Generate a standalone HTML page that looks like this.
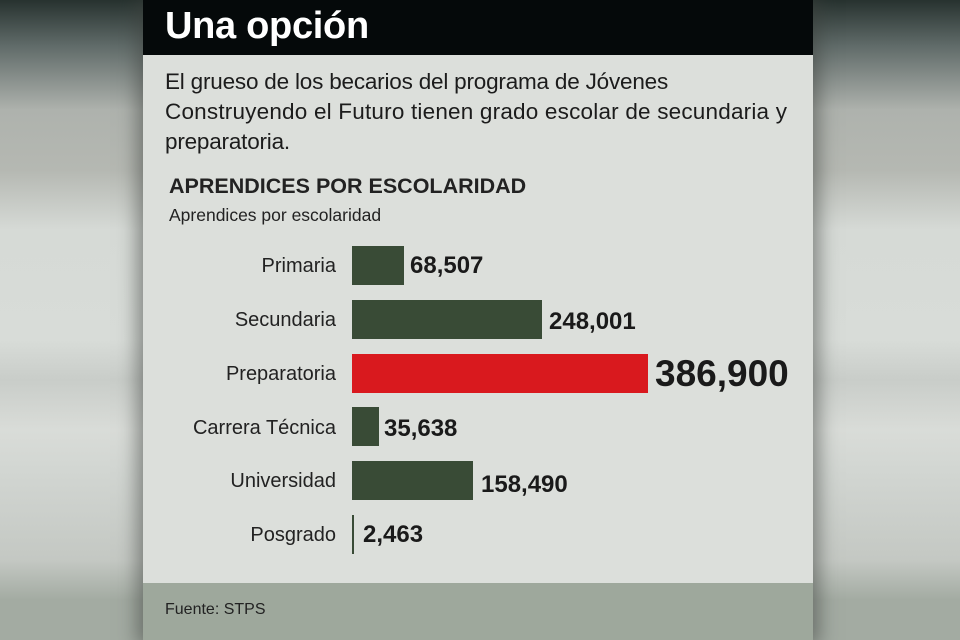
<!DOCTYPE html>
<html><head><meta charset="utf-8"><style>
*{margin:0;padding:0;box-sizing:border-box}
body{width:960px;height:640px;overflow:hidden;position:relative;font-family:"Liberation Sans",sans-serif;
background:linear-gradient(180deg,#27322f 0px,#5f6a68 45px,#aeb2ad 110px,#b5b8b2 170px,#d6dad6 230px,#d8dcd8 340px,#c9cdc9 380px,#d9dcd8 430px,#d2d6d2 470px,#c4c8c3 560px,#a3aba2 600px,#a3aba2 640px);}
.card{position:absolute;left:143px;top:0;width:670px;height:640px;background:#dcdfdb;box-shadow:0 0 18px 6px rgba(60,64,60,.55);}
.hd{position:absolute;left:0;top:0;width:670px;height:55px;background:#05090a;}
.hd span{position:absolute;left:22px;top:5px;color:#fff;font-weight:bold;font-size:38px;letter-spacing:-0.3px}
.t{position:absolute;color:#1c1c1c;white-space:nowrap}
.ft{position:absolute;left:0;top:583px;width:670px;height:57px;background:#9ea89c}
.bar{position:absolute;left:209px;height:39px;background:#394b36}
.lab{position:absolute;right:calc(670px - 193px);font-size:20px;color:#222;white-space:nowrap}
.val{position:absolute;font-size:24px;font-weight:bold;color:#1a1a1a;white-space:nowrap}
</style></head><body>
<div class="card">
<div class="hd"><span>Una opción</span></div>
<div class="t" style="left:22px;top:67px;font-size:22.5px;line-height:30px;letter-spacing:-0.2px">El grueso de los becarios del programa de Jóvenes<br><span style="letter-spacing:0.2px">Construyendo el Futuro tienen grado escolar de secundaria y</span><br>preparatoria.</div>
<div class="t" style="left:26px;top:174px;font-size:21.5px;font-weight:bold;color:#222">APRENDICES POR ESCOLARIDAD</div>
<div class="t" style="left:26px;top:205px;font-size:17.5px;color:#222">Aprendices por escolaridad</div>

<div class="lab" style="top:255px">Primaria</div>
<div class="bar" style="top:246px;width:52px"></div>
<div class="val" style="left:267px;top:252px">68,507</div>

<div class="lab" style="top:309px">Secundaria</div>
<div class="bar" style="top:300px;width:190px"></div>
<div class="val" style="left:406px;top:308px">248,001</div>

<div class="lab" style="top:363px">Preparatoria</div>
<div class="bar" style="top:354px;width:296px;background:#d9191e"></div>
<div class="val" style="left:512px;top:353px;font-size:37px">386,900</div>

<div class="lab" style="top:417px">Carrera Técnica</div>
<div class="bar" style="top:407px;width:27px"></div>
<div class="val" style="left:241px;top:415px">35,638</div>

<div class="lab" style="top:470px">Universidad</div>
<div class="bar" style="top:461px;width:121px"></div>
<div class="val" style="left:338px;top:471px">158,490</div>

<div class="lab" style="top:524px">Posgrado</div>
<div class="bar" style="top:515px;width:2px"></div>
<div class="val" style="left:220px;top:521px">2,463</div>

<div class="ft"><div class="t" style="left:22px;top:18px;font-size:16px;color:#222">Fuente: STPS</div></div>
</div>
</body></html>
